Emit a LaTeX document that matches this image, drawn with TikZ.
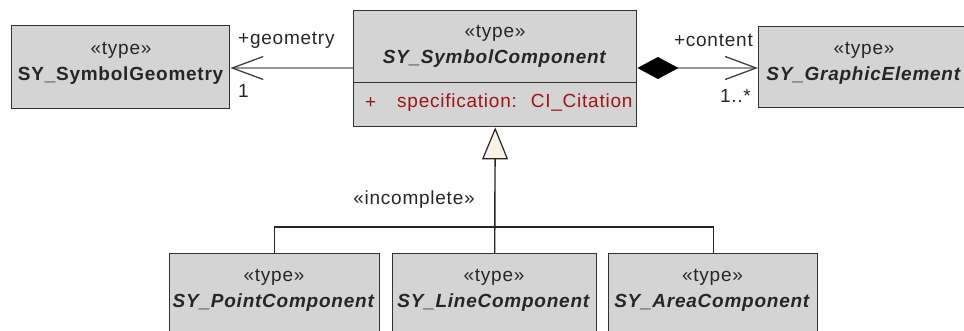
\documentclass[tikz,border=0pt]{standalone}
\usepackage{fontspec}
\setmainfont{Liberation Sans}[LetterSpace=4]
\usetikzlibrary{arrows.meta}
\definecolor{boxfill}{RGB}{212,212,212}
\definecolor{boxline}{RGB}{50,50,50}
\definecolor{assoc}{RGB}{150,150,150}
\definecolor{attrred}{RGB}{160,20,20}
\definecolor{cream}{RGB}{250,242,228}
\tikzset{
  umlbox/.style={draw=boxline, fill=boxfill, line width=1.4pt, inner sep=0pt, anchor=north west},
  txt/.style={font=\fontsize{19}{26}\selectfont, align=center, inner sep=0pt, text=black!85},
  lbl/.style={font=\fontsize{19}{22}\selectfont, inner sep=0pt, text=black!85},
  assocline/.style={draw=assoc, line width=2pt},
  opentip/.style={-{Straight Barb[length=31pt,width=23pt,line width=1.3pt,color=black!75]}},
  genline/.style={draw=black!85, line width=1.4pt},
}
\begin{document}
\begin{tikzpicture}[x=1pt,y=-1pt]
\path[use as bounding box] (0,0) rectangle (964,331);
\clip (0,0) rectangle (964,331);
% boxes
\node[umlbox, minimum width=218, minimum height=83] (geo) at (11,25) {};
\node[umlbox, minimum width=283, minimum height=72] (comp) at (353,10) {};
\node[umlbox, minimum width=283, minimum height=44] (compattr) at (353,82) {};
\node[umlbox, minimum width=240, minimum height=81] (ge) at (758,26) {};
\node[umlbox, minimum width=210, minimum height=90] (pt) at (169,253) {};
\node[umlbox, minimum width=204, minimum height=90] (ln) at (392,253) {};
\node[umlbox, minimum width=209, minimum height=90] (ar) at (608,253) {};
% texts
\node[txt] (geot) at (121,63) {«type»\\\textbf{SY\_SymbolGeometry}};
\node[txt] (compt) at (495,46.5) {«type»\\\textbf{\textit{SY\_SymbolComponent}}};
\node[txt] (gett) at (864,63.5) {«type»\\\textbf{\textit{SY\_GraphicElement}}};
\node[txt] (ptt) at (274,290) {«type»\\\textbf{\textit{SY\_PointComponent}}};
\node[txt] (lnt) at (494,290) {«type»\\\textbf{\textit{SY\_LineComponent}}};
\node[txt] (art) at (712.5,290) {«type»\\\textbf{\textit{SY\_AreaComponent}}};
\node[lbl, text=attrred, anchor=west] (plus) at (365,103) {+};
\node[lbl, text=attrred, anchor=west] (attr) at (397,103) {specification:\hspace{14pt}CI\_Citation};
% associations
\draw[assocline, opentip] (comp.west |- 0,68) -- (geo.east |- 0,68);
\draw[assocline, opentip, {Diamond[length=41pt,width=22pt,fill=black,color=black]}-{Straight Barb[length=31pt,width=23pt,line width=1.3pt,color=black!75]}] (comp.east |- 0,68) -- (ge.west |- 0,68);
\node[lbl, anchor=west] (geolbl) at (238,40) {+geometry};
\node[lbl, anchor=west] (geomult) at (238,91) {1};
\node[lbl, anchor=east] (conlbl) at (753,40) {+content};
\node[lbl, anchor=east] (conmult) at (751,96) {1..*};
% generalization
\coordinate (j) at (494.5,227);
\draw[genline, -{Triangle[length=32pt,width=26pt,fill=cream,line width=1.2pt]}] (ln.north) -- (compattr.south);
\draw[genline] (pt.north) |- (j) -| (ar.north);
\node[lbl] (inc) at (414,200) {«incomplete»};
\end{tikzpicture}
\end{document}
